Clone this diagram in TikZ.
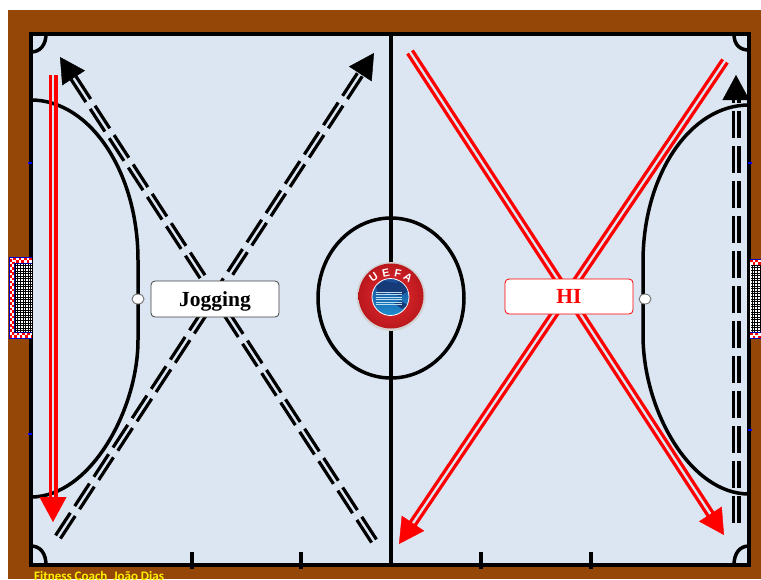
\documentclass[tikz,border=0pt]{standalone}
\usepackage{fontspec}
\setmainfont{Liberation Serif}
\newfontfamily\carlitofont{Carlito}
\newfontfamily\heroslogo{Liberation Sans}
\usetikzlibrary{arrows.meta,positioning,shapes.geometric,calc}
\definecolor{pitchblue}{RGB}{220,230,242}
\definecolor{woodbrown}{RGB}{148,71,7}
\definecolor{logored}  {RGB}{232,44,46}
\definecolor{logodark} {RGB}{186,24,30}
\definecolor{mapblue}  {RGB}{28,74,150}
\definecolor{seablue}  {RGB}{30,140,205}
% two parallel strokes, open between them, and a head on the end
\newcommand{\twinrun}[3]{
  \coordinate (neck) at ($(#3)!24pt!(#2)$);
  \draw[#1] ($(#2)!2.9pt!90:(neck)$) -- ($(neck)!2.9pt!-90:(#2)$);
  \draw[#1] ($(#2)!2.9pt!-90:(neck)$) -- ($(neck)!2.9pt!90:(#2)$);
  \draw[#1, solid, line width=0.4pt, -{Triangle[length=25pt,width=27pt]}] (neck) -- (#3);
}

\begin{document}
\begin{tikzpicture}[
  x=1pt, y=-1pt,
  courtline/.style={draw=black, line width=3.5pt},
  jogline/.style={draw=black, line width=3.2pt, dash pattern=on 27pt off 8pt},
  hiline/.style={draw=red, line width=3.2pt},
  labelbox/.style={rounded corners=4pt, fill=white, line width=0.8pt, minimum width=128pt,
                   font=\fontsize{21.5}{24}\selectfont\bfseries, inner sep=0pt, text depth=0pt},
  spot/.style={ellipse, draw=gray!90!black, fill=white, line width=0.9pt,
               minimum width=12pt, minimum height=10pt, inner sep=0pt},
  blueedge/.style={fill=blue, draw=none},
  checker/.style={draw=red, line width=2.5pt, dash pattern=on 2.7pt off 2.7pt},
  netline/.style={draw=black, line width=0.6pt},
  logoletter/.style={text=white, font=\heroslogo\fontsize{11}{11}\selectfont\bfseries, inner sep=0pt},
]
\useasboundingbox (0,0) rectangle (761,579);
\clip (0,0) rectangle (761,579);

%-- Court
\fill[woodbrown] (8,10) rectangle (761,579);
\fill[pitchblue] (31,34) rectangle (749,565);
\node[inner sep=0pt, anchor=base west, text=yellow, font=\carlitofont\fontsize{13}{15}\selectfont\bfseries]
  (credit) at (34,580) {Fitness Coach\ \ João Dias};

\draw[courtline] (391,34) -- (391,565);
\draw[courtline] (391,298) ellipse [x radius=73, y radius=80];
\draw[courtline] (31,100) .. controls (90,100) and (138,172) .. (138,260)
  -- (138,340) .. controls (138,410) and (90,497) .. (31,497);
\draw[courtline] (749,105) .. controls (690,105) and (643,175) .. (643,262)
  -- (643,335) .. controls (643,410) and (690,494) .. (749,494);

%-- Corners
\draw[courtline] (46,34) .. controls (46,45) and (40,52) .. (31,52);
\draw[courtline] (734,34) .. controls (734,45) and (740,50) .. (749,50);
\draw[courtline] (46,565) .. controls (46,553) and (40,546) .. (31,546);
\draw[courtline] (734,565) .. controls (734,553) and (740,546) .. (749,546);

%-- Ticks on the bottom line
\foreach \tickx in {192,301,481,591}
  \draw[courtline] (\tickx,552) -- (\tickx,569);

%-- Runs
\coordinate (jogA) at (374,541);
\coordinate (jogB) at (60,57);
\coordinate (jogC) at (58,537);
\coordinate (jogD) at (374,53);
\coordinate (jogE) at (736,523);
\coordinate (jogF) at (736,75);
\coordinate (hiA) at (53,75);
\coordinate (hiB) at (53,522);
\coordinate (hiC) at (410,52);
\coordinate (hiD) at (724,535);
\coordinate (hiE) at (725,61);
\coordinate (hiF) at (399,544);

\twinrun{jogline}{jogA}{jogB}
\twinrun{jogline}{jogC}{jogD}
\twinrun{jogline}{jogE}{jogF}
\twinrun{hiline}{hiA}{hiB}
\twinrun{hiline}{hiC}{hiD}
\twinrun{hiline}{hiE}{hiF}

\draw[draw=black, line width=4pt] (31,34) rectangle (749,565);
\fill[blueedge] (28,162) rectangle (32,164);
\fill[blueedge] (28,433) rectangle (32,435);
\fill[blueedge] (748,162) rectangle (752,164);
\fill[blueedge] (748,429) rectangle (752,431);

%-- Left goal
\fill[white] (9,257) rectangle (32,338);
\foreach \netx in {15,17.6,...,32}
  \draw[netline] (\netx,263) -- (\netx,332);
\foreach \nety in {263,265.6,...,332}
  \draw[netline] (14,\nety) -- (32,\nety);
\draw[checker] (32,258.7) -- (10.7,258.7) -- (10.7,336.3) -- (32,336.3);
\draw[checker, dash phase=2.7pt] (32,261.3) -- (13.3,261.3) -- (13.3,333.7) -- (32,333.7);
\draw[blue!80!black, line width=0.9pt] (32,257) -- (9,257) -- (9,338) -- (32,338);
\draw[blue!60!black, line width=0.9pt] (32,263) -- (14.5,263) -- (14.5,332) -- (32,332);

%-- Right goal
\fill[white] (750,259) rectangle (761,338);
\foreach \netx in {752,754.6,...,761}
  \draw[netline] (\netx,265) -- (\netx,332);
\foreach \nety in {265,267.6,...,332}
  \draw[netline] (751,\nety) -- (761,\nety);
\draw[checker] (750,260.7) -- (761,260.7);
\draw[checker, dash phase=2.7pt] (750,263.3) -- (761,263.3);
\draw[checker] (750,334.2) -- (761,334.2);
\draw[checker, dash phase=2.7pt] (750,336.8) -- (761,336.8);
\draw[blue!70!black, line width=0.8pt] (750,259) -- (761,259) (750,332.5) -- (761,332.5) (750,338.5) -- (761,338.5);

%-- Logo
\fill[gray!35] (391,296.5) circle [radius=34.5];
\shade[inner color=logored, outer color=logodark, draw=none] (391,296) circle [radius=32.5];
\shade[top color=mapblue, bottom color=seablue, draw=white, line width=0.8pt] (390.5,297) circle [radius=18.5];
\begin{scope}
  \clip (390.5,297) circle [radius=18];
  \fill[mapblue!80!black] (376,286) -- (384,281) -- (396,283) -- (404,279) -- (410,290) -- (400,296) -- (388,293) -- (378,295) -- cycle;
  \fill[mapblue!80!black] (394,303) -- (401,301) -- (408,305) -- (402,309) -- cycle;
  \foreach \stripey in {292,294.5,...,305}
    \draw[white!70!seablue, line width=0.6pt] (376,\stripey) -- (402,\stripey);
\end{scope}
\node[logoletter, rotate=34] (logoU) at (373.5,277) {U};
\node[logoletter, rotate=12] (logoE) at (386,273) {E};
\node[logoletter, rotate=-12] (logoF) at (398,273) {F};
\node[logoletter, rotate=-34] (logoA) at (408,277.5) {A};

%-- Labels
\node[spot] (spotL) at (138,299) {};
\node[spot] (spotR) at (645,299) {};
\node[labelbox, draw=black!75, minimum height=36pt] (jogging) at (215,299) {Jogging};
\node[labelbox, draw=red, text=red, minimum height=35pt] (hi) at (569,296.5) {HI};
\end{tikzpicture}
\end{document}
